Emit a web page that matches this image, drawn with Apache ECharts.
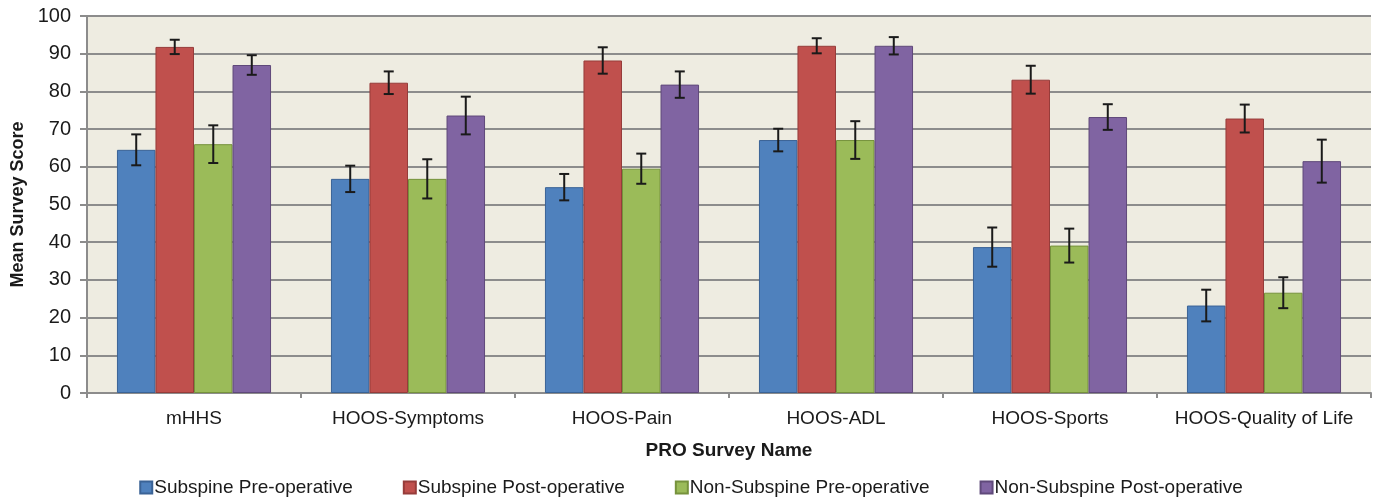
<!DOCTYPE html>
<html>
<head>
<meta charset="utf-8">
<script src="https://cdn.jsdelivr.net/npm/echarts@6/dist/echarts.min.js"></script>
<style>
  html, body { margin: 0; padding: 0; background: #fff; }
  #chart { width: 1382px; height: 497px; }
</style>
</head>
<body>
<div id="chart"></div>
<script>
// survey categories and the four groups (mean, +/- error)
var categories = ['mHHS', 'HOOS-Symptoms', 'HOOS-Pain', 'HOOS-ADL', 'HOOS-Sports', 'HOOS-Quality of Life'];
var seriesNames = ['Subspine Pre-operative', 'Subspine Post-operative', 'Non-Subspine Pre-operative', 'Non-Subspine Post-operative'];

var subPre = [64.5, 56.8, 54.6, 67.1, 38.7, 23.2];
var subPreErr = [4.1, 3.5, 3.5, 3.0, 5.2, 4.2];
var subPost = [91.8, 82.3, 88.2, 92.1, 83.1, 72.8];
var subPostErr = [1.9, 3.0, 3.5, 2.0, 3.7, 3.7];
var nonPre = [66.0, 56.8, 59.5, 67.1, 39.1, 26.6];
var nonPreErr = [5.0, 5.2, 4.0, 5.0, 4.5, 4.1];
var nonPost = [87.0, 73.6, 81.8, 92.1, 73.2, 61.5];
var nonPostErr = [2.6, 5.0, 3.5, 2.3, 3.4, 5.7];

var colors = ['#4f81bd', '#c0504d', '#9bbb59', '#8064a2'];
var borders = ['#3a6396', '#963c3a', '#76923c', '#5f497a'];

var means = [subPre, subPost, nonPre, nonPost];
var errs = [subPreErr, subPostErr, nonPreErr, nonPostErr];

var catGap = 0.28;
var fontName = 'Liberation Sans, Arial, sans-serif';

var myChart = echarts.init(document.getElementById('chart'));

var series = [];
for (var s = 0; s < 4; s++) {
    series.push({
        name: seriesNames[s],
        type: 'bar',
        data: means[s],
        barGap: '0%',
        barCategoryGap: (catGap * 100) + '%',
        itemStyle: { color: colors[s], borderColor: borders[s], borderWidth: 1 }
    });
}

// error bars, one custom series for each group
for (var s = 0; s < 4; s++) {
    var errData = [];
    for (var i = 0; i < categories.length; i++) {
        errData.push([i, means[s][i] - errs[s][i], means[s][i] + errs[s][i]]);
    }
    series.push({
        type: 'custom',
        z: 10,
        silent: true,
        data: errData,
        encode: { x: 0, y: [1, 2] },
        renderItem: (function (idx) {
            return function (params, api) {
                var lowPt = api.coord([api.value(0), api.value(1)]);
                var highPt = api.coord([api.value(0), api.value(2)]);
                var band = api.size([1, 0])[0];
                var barW = band * (1 - catGap) / 4;
                var x = lowPt[0] + (idx - 1.5) * barW;
                var cap = 5;
                var style = { stroke: '#1a1a1a', lineWidth: 2 };
                return {
                    type: 'group',
                    children: [
                        { type: 'line', shape: { x1: x, y1: highPt[1], x2: x, y2: lowPt[1] }, style: style },
                        { type: 'line', shape: { x1: x - cap, y1: highPt[1], x2: x + cap, y2: highPt[1] }, style: style },
                        { type: 'line', shape: { x1: x - cap, y1: lowPt[1], x2: x + cap, y2: lowPt[1] }, style: style }
                    ]
                };
            };
        })(s)
    });
}

var option = {
    backgroundColor: '#ffffff',
    textStyle: { fontFamily: fontName },
    grid: {
        left: 87, right: 11, top: 16, bottom: 104,
        outerBoundsMode: 'none',
        containLabel: false,
        show: true, backgroundColor: '#eeece1', borderWidth: 0
    },
    legend: {
        data: seriesNames,
        top: 473,
        left: 'center',
        icon: 'rect',
        itemWidth: 12,
        itemHeight: 12,
        itemGap: 50,
        selectedMode: false,
        textStyle: { fontSize: 19, color: '#1a1a1a', fontFamily: fontName, padding: [0, 0, 0, -3] }
    },
    xAxis: {
        type: 'category',
        data: categories,
        name: 'PRO Survey Name',
        nameLocation: 'middle',
        nameGap: 48,
        nameTextStyle: { fontSize: 19, fontWeight: 'bold', color: '#1a1a1a' },
        axisLine: { lineStyle: { color: '#8c8c8c', width: 2 } },
        axisTick: { show: true, length: 5, lineStyle: { color: '#8c8c8c', width: 2 } },
        axisLabel: { fontSize: 19, color: '#1a1a1a', margin: 16, interval: 0 }
    },
    yAxis: {
        type: 'value',
        min: 0,
        max: 100,
        interval: 10,
        name: 'Mean Survey Score',
        nameLocation: 'middle',
        nameGap: 60,
        nameTextStyle: { fontSize: 18, fontWeight: 'bold', color: '#1a1a1a' },
        axisLine: { show: true, lineStyle: { color: '#8c8c8c', width: 2 } },
        axisTick: { show: true, length: 7, lineStyle: { color: '#8c8c8c', width: 2 } },
        axisLabel: { fontSize: 20, color: '#1a1a1a', margin: 16 },
        splitLine: { lineStyle: { color: '#8c8c8c', width: 2 } }
    },
    series: series
};
myChart.setOption(option);
</script>
</body>
</html>
